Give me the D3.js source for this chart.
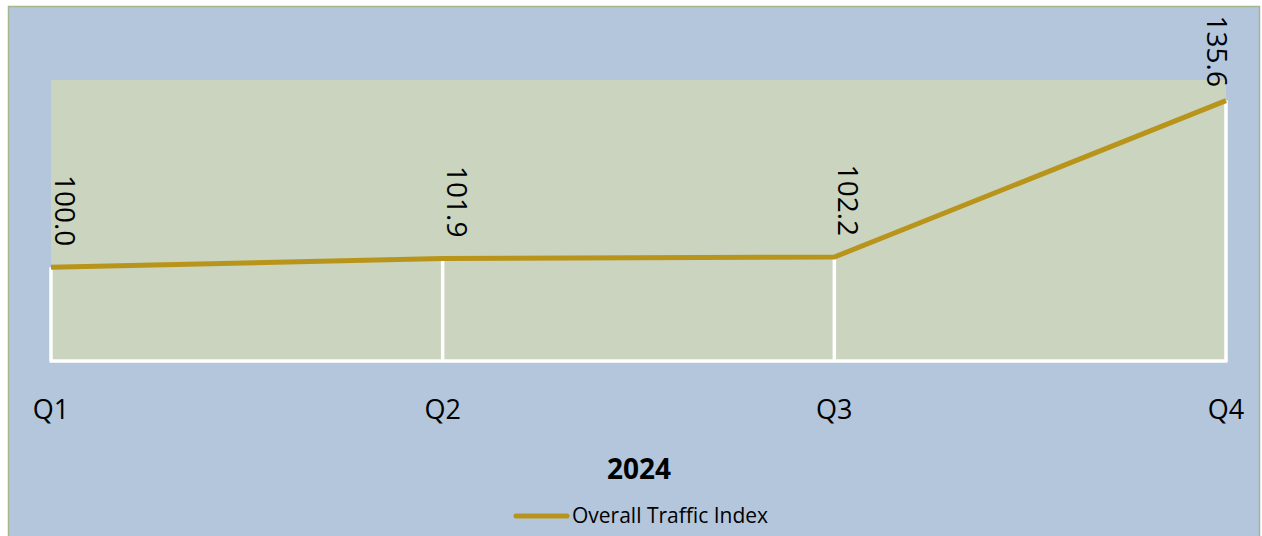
<!DOCTYPE html>
<html><head><meta charset="utf-8">
<script src="https://cdn.jsdelivr.net/npm/d3@7"></script>
<style>html,body{margin:0;padding:0;background:#fff;}svg{display:block;}</style>
</head><body>
<script>
const categories = ["Q1", "Q2", "Q3", "Q4"];
const values = [100.0, 101.9, 102.2, 135.6];
const seriesName = "Overall Traffic Index";
const axisTitle = "2024";
const yDomain = [80, 140];

const W = 1262, H = 536;
const svg = d3.select("body").append("svg").attr("width", W).attr("height", H);
const font = "'Open Sans', 'Noto Sans', sans-serif";

// chart background with border
svg.append("rect").attr("x", 8.5).attr("y", 6.5).attr("width", 1251).attr("height", 540)
  .attr("fill", "#b3c6dc").attr("stroke", "#a6b78e").attr("stroke-width", 1.5);

const x = d3.scalePoint().domain(categories).range([51, 1226]);
const y = d3.scaleLinear().domain(yDomain).range([361, 80]);

// plot area
svg.append("rect").attr("x", x(categories[0])).attr("y", y(yDomain[1]))
  .attr("width", x(categories[3]) - x(categories[0])).attr("height", y(yDomain[0]) - y(yDomain[1]))
  .attr("fill", "#cad4bf");

const data = categories.map((c, i) => ({c, v: values[i]}));

// drop lines
svg.selectAll("line.drop").data(data).enter().append("line")
  .attr("x1", d => x(d.c)).attr("x2", d => x(d.c))
  .attr("y1", d => y(d.v)).attr("y2", y(yDomain[0]))
  .attr("stroke", "#fff").attr("stroke-width", 3.5);

// baseline
svg.append("line").attr("x1", x(categories[0]) - 1.5).attr("x2", x(categories[3]) + 1.5)
  .attr("y1", y(yDomain[0])).attr("y2", y(yDomain[0]))
  .attr("stroke", "#fff").attr("stroke-width", 3.5);

// line
svg.append("path").datum(data)
  .attr("d", d3.line().x(d => x(d.c)).y(d => y(d.v)))
  .attr("fill", "none").attr("stroke", "#b8941b").attr("stroke-width", 5);

// data labels (rotated clockwise), bottom of text ~22px above the point, kept inside the chart
svg.selectAll("text.lab").data(data).enter().append("text")
  .attr("transform", (d, i) => {
    let bottom = y(d.v) - 21;
    const top = bottom - 72;
    if (top < 15) bottom = 15 + 72;
    let cx = x(d.c) + 14;
    if (i === categories.length - 1) cx = x(d.c) - 9;
    return `translate(${cx},${bottom}) rotate(90)`;
  })
  .attr("text-anchor", "end").attr("dy", "0.36em")
  .attr("font-family", font).attr("font-size", 28).attr("fill", "#000")
  .text(d => d.v.toFixed(1));

// category labels
svg.selectAll("text.cat").data(data).enter().append("text")
  .attr("x", d => x(d.c)).attr("y", 419)
  .attr("text-anchor", "middle")
  .attr("font-family", font).attr("font-size", 27).attr("fill", "#000")
  .text(d => d.c);

// axis title
svg.append("text").attr("x", 639).attr("y", 479).attr("text-anchor", "middle")
  .attr("font-family", font).attr("font-weight", "bold").attr("font-size", 28).attr("fill", "#000")
  .text(axisTitle);

// legend
svg.append("line").attr("x1", 516).attr("x2", 567).attr("y1", 516).attr("y2", 516)
  .attr("stroke", "#b8941b").attr("stroke-width", 5).attr("stroke-linecap", "round");
svg.append("text").attr("x", 572).attr("y", 523)
  .attr("font-family", font).attr("font-size", 21).attr("fill", "#000")
  .text(seriesName);
</script>
</body></html>
